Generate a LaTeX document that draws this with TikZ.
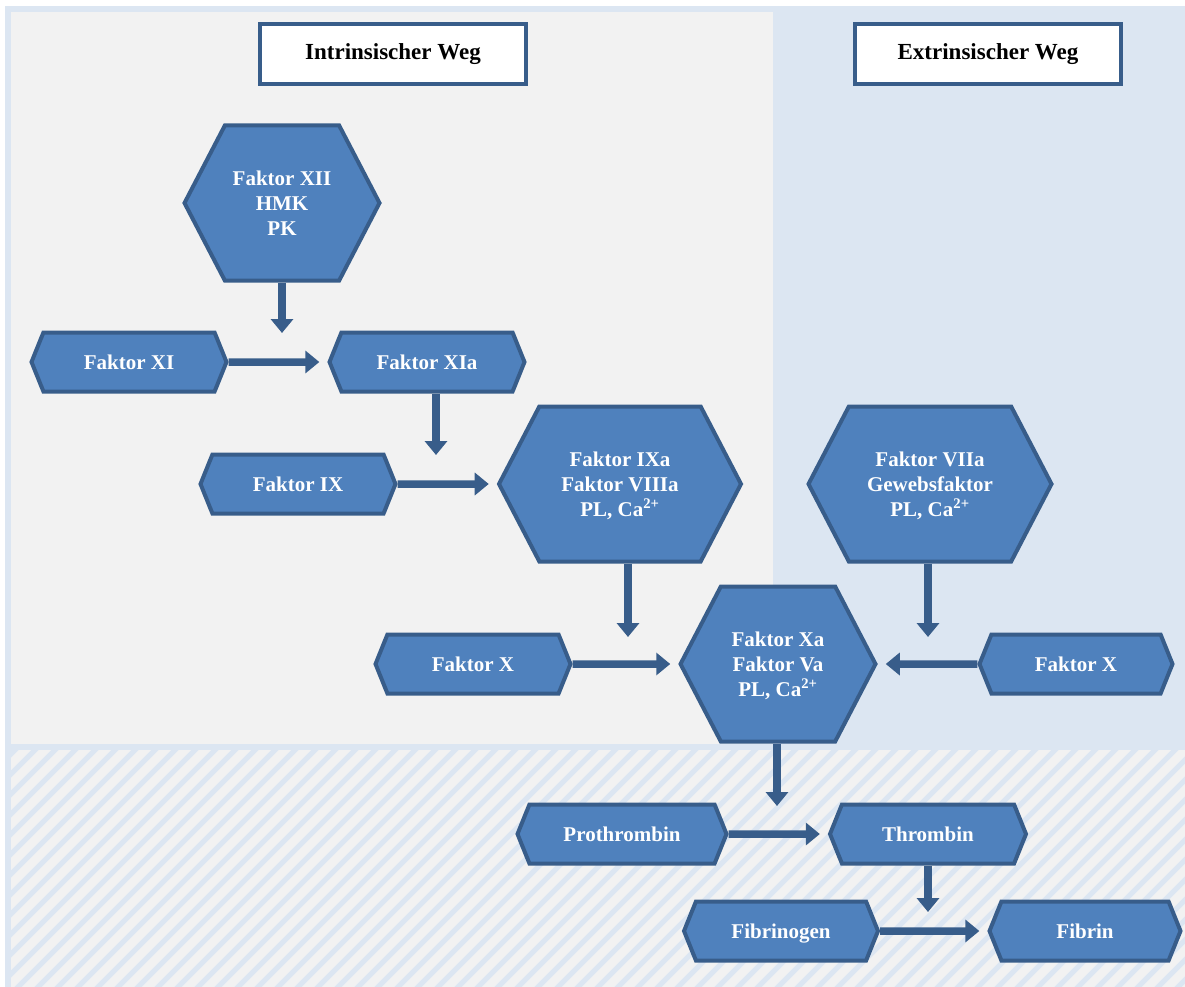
\documentclass[tikz,border=0pt]{standalone}
\usepackage{fontspec}
\setmainfont{Liberation Serif}
\usetikzlibrary{shapes.symbols, arrows.meta, positioning}
\definecolor{cFill}{HTML}{4F81BD}
\definecolor{cLine}{HTML}{385D8A}
\definecolor{cBlue}{HTML}{DCE6F2}
\definecolor{cGray}{HTML}{F2F2F2}

\begin{document}
\begin{tikzpicture}[x=1pt, y=-1pt,
                    factor/.style={signal, signal to=east and west, signal pointer angle=136,
                                   fill=cFill, draw=cLine, line width=4pt, text=white, inner sep=0pt,
                                   font=\bfseries\fontsize{21}{25}\selectfont, align=center,
                                   text depth=0pt, minimum width=195pt, minimum height=59pt},
                    complex/.style={factor, signal pointer angle=125, minimum height=155pt},
                    titlebox/.style={draw=cLine, fill=white, line width=4pt, minimum width=266pt,
                                     minimum height=60pt, font=\bfseries\fontsize{23}{27}\selectfont},
                    arr/.style={color=cLine, line width=7.5pt, -{Triangle[length=14pt, width=22pt]}},
                    link/.style={arr, shorten >=8pt}]

    \useasboundingbox (0,0) rectangle (1185,987);

    % Background panels
    \fill[cBlue] (5,6) rectangle (1185,987);
    \fill[cGray] (11,12) rectangle (773,744);
    \fill[cGray] (11,750) rectangle (1185,987);
    \begin{scope}
        \clip (11,750) rectangle (1185,987);
        \foreach \i in {0,...,72}
            \draw[cBlue, line width=5pt] (\i*20-250,995) -- ++(260,-260);
    \end{scope}

    % Node Placements
    \node[titlebox] (TI) at (393,54)  {Intrinsischer Weg};
    \node[titlebox] (TE) at (988,54)  {Extrinsischer Weg};

    \node[complex] (XII)  at (282,203) {Faktor XII\\HMK\\PK};
    \node[factor]  (XI)   at (129,362) {Faktor XI};
    \node[factor]  (XIa)  at (427,362) {Faktor XIa};
    \node[factor]  (IX)   at (298,484) {Faktor IX};
    \node[complex, minimum width=242pt] (IXa)  at (620,484) {Faktor IXa\\Faktor VIIIa\\PL, Ca\textsuperscript{2+}};
    \node[complex, minimum width=243pt] (VIIa) at (930,484) {Faktor VIIa\\Gewebsfaktor\\PL, Ca\textsuperscript{2+}};
    \node[factor]  (XL)   at (473,664) {Faktor X};
    \node[complex] (Xa)   at (778,664) {Faktor Xa\\Faktor Va\\PL, Ca\textsuperscript{2+}};
    \node[factor, minimum width=193pt] (XR) at (1076,664) {Faktor X};
    \node[factor, minimum width=209pt] (Pro) at (622,834) {Prothrombin};
    \node[factor, minimum width=196pt] (Thr) at (928,834) {Thrombin};
    \node[factor, minimum width=194pt] (Fbg) at (781,931) {Fibrinogen};
    \node[factor, minimum width=191pt] (Fbn) at (1085,931) {Fibrin};

    \coordinate (cXII)  at (282,333);
    \coordinate (cXIa)  at (436,455);
    \coordinate (cIXa)  at (628,637);
    \coordinate (cVIIa) at (928,637);
    \coordinate (cXa)   at (777,806);
    \coordinate (cThr)  at (928,912);

    % Graph Path Operations
    \path[link]
    (XI)  edge (XIa)
    (IX)  edge (IXa)
    (XL)  edge (Xa)
    (XR)  edge (Xa)
    (Pro) edge (Thr)
    (Fbg) edge (Fbn);

    \path[arr]
    (XII.south)        edge (cXII)
    (XIa.south -| cXIa)  edge (cXIa)
    (IXa.south -| cIXa)  edge (cIXa)
    (VIIa.south -| cVIIa) edge (cVIIa)
    (Xa.south -| cXa)    edge (cXa)
    (Thr.south -| cThr)  edge (cThr);
\end{tikzpicture}
\end{document}
